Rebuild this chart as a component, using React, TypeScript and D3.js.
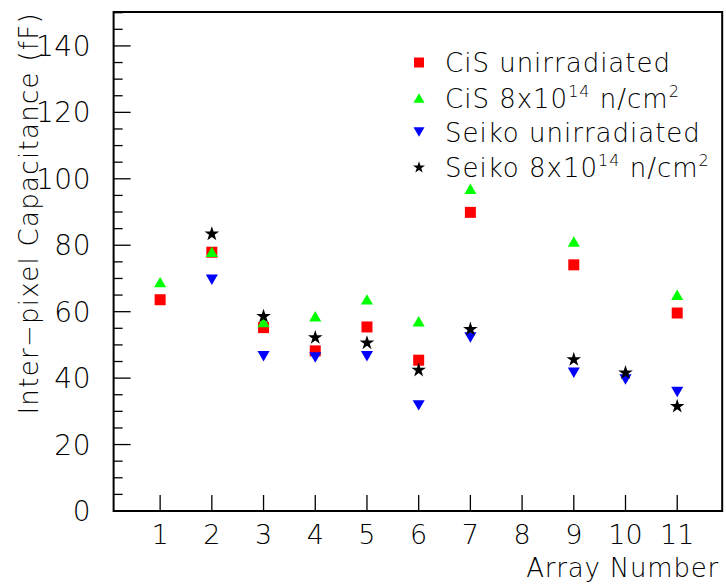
import React from "react";
import * as d3 from "d3";

const cisUnirr: [number, number][] = [
  [1, 63.6], [2, 77.9], [3, 55.2], [4, 48.2], [5, 55.4], [6, 45.4], [7, 89.9], [9, 74.1], [11, 59.6],
];
const cisIrr: [number, number][] = [
  [1, 68.9], [2, 78.0], [3, 56.9], [4, 58.6], [5, 63.7], [6, 57.1], [7, 97.0], [9, 81.1], [11, 65.1],
];
const seikoUnirr: [number, number][] = [
  [2, 69.6], [3, 46.6], [4, 46.2], [5, 46.6], [6, 31.8], [7, 52.2], [9, 41.6], [10, 39.6], [11, 35.8],
];
const seikoIrr: [number, number][] = [
  [2, 83.4], [3, 58.6], [4, 52.2], [5, 50.6], [6, 42.4], [7, 54.7], [9, 45.6], [10, 41.6], [11, 31.5],
];
const xTicks = [1, 2, 3, 4, 5, 6, 7, 8, 9, 10, 11];
const yTicks = [0, 20, 40, 60, 80, 100, 120, 140];
const yMinor = d3.range(0, 151, 5);

const W = 726, H = 584;
const FONT = "'DejaVu Sans', sans-serif";

type Kind = "square" | "up" | "down" | "star";

function markerPath(kind: Kind, s: number): string {
  if (kind === "square") return d3.symbol(d3.symbolSquare, s * s)() as string;
  if (kind === "star") return d3.symbol(d3.symbolStar, s * s * 0.55)() as string;
  const w = s * 1.1, h = s * 0.95;
  if (kind === "up") return `M0,${-h / 2}L${w / 2},${h / 2}L${-w / 2},${h / 2}Z`;
  return `M0,${h / 2}L${w / 2},${-h / 2}L${-w / 2},${-h / 2}Z`;
}

const series: { data: [number, number][]; kind: Kind; color: string; label: string; sup: boolean; name: string }[] = [
  { data: cisUnirr, kind: "square", color: "#ff0000", label: "CiS unirradiated", sup: false, name: "CiS" },
  { data: cisIrr, kind: "up", color: "#00ff00", label: "", sup: true, name: "CiS" },
  { data: seikoUnirr, kind: "down", color: "#0000ff", label: "Seiko unirradiated", sup: false, name: "Seiko" },
  { data: seikoIrr, kind: "star", color: "#000000", label: "", sup: true, name: "Seiko" },
];

export default function App() {
  const left = 113.6, right = 722.2, top = 12, bottom = 511;
  const x = d3.scaleLinear().domain([0.1, 11.87]).range([left, right]);
  const y = d3.scaleLinear().domain([0, 150]).range([bottom, top + 0.7]);

  const legendX = 419, textX = 445;
  const legendY = [62.5, 98, 132, 167.5];

  return (
    <svg width={W} height={H} style={{ position: "absolute", left: 0, top: 0, background: "#fff" }}>
      <rect x={0} y={0} width={W} height={H} fill="#fff" />
      {xTicks.map((t) => (
        <line key={"xt" + t} x1={x(t)} x2={x(t)} y1={bottom} y2={bottom - 16} stroke="#000" strokeWidth={1.3} />
      ))}
      {yMinor.map((t) => (
        <line key={"ym" + t} x1={left} x2={left + (t % 20 === 0 ? 17 : 9)} y1={y(t)} y2={y(t)} stroke="#000" strokeWidth={1.3} />
      ))}
      <rect x={left} y={top} width={right - left} height={bottom - top} fill="none" stroke="#000" strokeWidth={2} />
      {xTicks.map((t) => (
        <text key={"xl" + t} x={x(t)} y={544} textAnchor="middle" fontFamily={FONT} fontWeight={200} fontSize={27} fill="#000">{t}</text>
      ))}
      {yTicks.map((t) => (
        <text key={"yl" + t} x={91} y={y(t) + 10} textAnchor="end" fontFamily={FONT} fontWeight={200} fontSize={28} letterSpacing={0.5} fill="#000">{t}</text>
      ))}
      <text x={719} y={577} textAnchor="end" fontFamily={FONT} fontWeight={200} fontSize={26} letterSpacing={0.8} fill="#000">Array Number</text>
      <text transform={`translate(38,12) rotate(-90)`} textAnchor="end" fontFamily={FONT} fontWeight={200} fontSize={26} letterSpacing={1.3} fill="#000">Inter−pixel Capacitance (fF)</text>
      {series.map((s, i) => (
        <g key={"s" + i}>
          {s.data.map(([a, v]) => (
            <path key={a} d={markerPath(s.kind, 11)} transform={`translate(${x(a)},${y(v)})`} fill={s.color} />
          ))}
        </g>
      ))}
      {series.map((s, i) => (
        <g key={"lg" + i}>
          <path d={markerPath(s.kind, s.kind === "star" ? 9 : 10)} transform={`translate(${legendX},${legendY[i]})`} fill={s.color} />
          <text x={textX} y={legendY[i] + 9.5} fontFamily={FONT} fontWeight={200} fontSize={26} letterSpacing={1} fill="#000">
            {s.sup ? (
              <>
                {s.name + " 8x10"}
                <tspan dy={-11} fontSize={16}>14</tspan>
                <tspan dy={11}>{"\u00a0n/cm"}</tspan>
                <tspan dy={-11} fontSize={16}>2</tspan>
              </>
            ) : (
              s.label
            )}
          </text>
        </g>
      ))}
    </svg>
  );
}
